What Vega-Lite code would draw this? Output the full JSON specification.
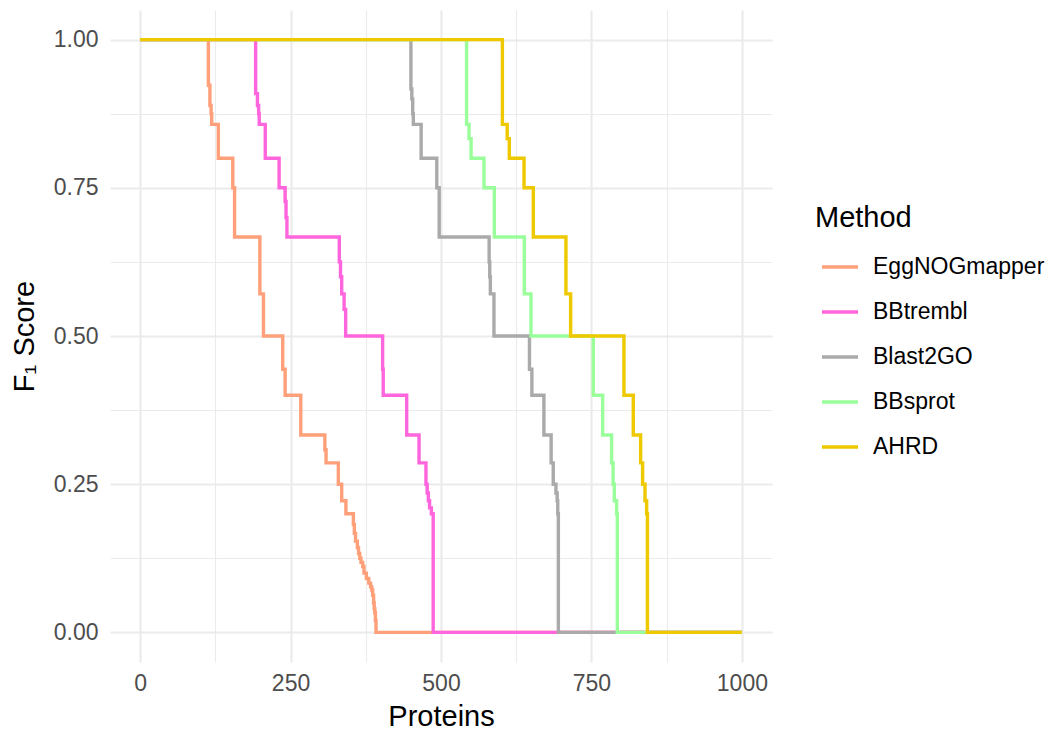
{
  "$schema": "https://vega.github.io/schema/vega-lite/v6.json",
  "width": 662,
  "height": 652,
  "autosize": {"type": "none"},
  "padding": {"left": 110, "top": 10, "right": 282, "bottom": 69},
  "background": "white",
  "config": {
    "view": {"stroke": null},
    "font": "Liberation Sans"
  },
  "datasets": {
    "curves": [
      {"method": "EggNOGmapper", "x": 0, "f1": 1},
      {"method": "EggNOGmapper", "x": 113.5, "f1": 0.923},
      {"method": "EggNOGmapper", "x": 116, "f1": 0.889},
      {"method": "EggNOGmapper", "x": 118, "f1": 0.875},
      {"method": "EggNOGmapper", "x": 119, "f1": 0.857},
      {"method": "EggNOGmapper", "x": 130, "f1": 0.8},
      {"method": "EggNOGmapper", "x": 154, "f1": 0.75},
      {"method": "EggNOGmapper", "x": 157, "f1": 0.667},
      {"method": "EggNOGmapper", "x": 199, "f1": 0.571},
      {"method": "EggNOGmapper", "x": 205, "f1": 0.5},
      {"method": "EggNOGmapper", "x": 237, "f1": 0.444},
      {"method": "EggNOGmapper", "x": 241, "f1": 0.4},
      {"method": "EggNOGmapper", "x": 267, "f1": 0.333},
      {"method": "EggNOGmapper", "x": 307, "f1": 0.308},
      {"method": "EggNOGmapper", "x": 309, "f1": 0.286},
      {"method": "EggNOGmapper", "x": 329.4, "f1": 0.25},
      {"method": "EggNOGmapper", "x": 335, "f1": 0.222},
      {"method": "EggNOGmapper", "x": 342, "f1": 0.2},
      {"method": "EggNOGmapper", "x": 354.4, "f1": 0.182},
      {"method": "EggNOGmapper", "x": 356, "f1": 0.167},
      {"method": "EggNOGmapper", "x": 358, "f1": 0.154},
      {"method": "EggNOGmapper", "x": 361, "f1": 0.143},
      {"method": "EggNOGmapper", "x": 363, "f1": 0.133},
      {"method": "EggNOGmapper", "x": 365, "f1": 0.125},
      {"method": "EggNOGmapper", "x": 367, "f1": 0.118},
      {"method": "EggNOGmapper", "x": 370, "f1": 0.111},
      {"method": "EggNOGmapper", "x": 372, "f1": 0.1},
      {"method": "EggNOGmapper", "x": 376, "f1": 0.091},
      {"method": "EggNOGmapper", "x": 380, "f1": 0.083},
      {"method": "EggNOGmapper", "x": 383, "f1": 0.077},
      {"method": "EggNOGmapper", "x": 385, "f1": 0.0714},
      {"method": "EggNOGmapper", "x": 386.5, "f1": 0.0625},
      {"method": "EggNOGmapper", "x": 388, "f1": 0.05},
      {"method": "EggNOGmapper", "x": 389, "f1": 0.04},
      {"method": "EggNOGmapper", "x": 390, "f1": 0.033},
      {"method": "EggNOGmapper", "x": 391, "f1": 0.02},
      {"method": "EggNOGmapper", "x": 392, "f1": 0},
      {"method": "EggNOGmapper", "x": 1000, "f1": 0},

      {"method": "BBtrembl", "x": 0, "f1": 1},
      {"method": "BBtrembl", "x": 192, "f1": 0.909},
      {"method": "BBtrembl", "x": 195, "f1": 0.889},
      {"method": "BBtrembl", "x": 197, "f1": 0.875},
      {"method": "BBtrembl", "x": 198, "f1": 0.857},
      {"method": "BBtrembl", "x": 208, "f1": 0.8},
      {"method": "BBtrembl", "x": 231, "f1": 0.75},
      {"method": "BBtrembl", "x": 241, "f1": 0.727},
      {"method": "BBtrembl", "x": 242.5, "f1": 0.7},
      {"method": "BBtrembl", "x": 244, "f1": 0.667},
      {"method": "BBtrembl", "x": 331, "f1": 0.625},
      {"method": "BBtrembl", "x": 333, "f1": 0.6},
      {"method": "BBtrembl", "x": 335, "f1": 0.571},
      {"method": "BBtrembl", "x": 339, "f1": 0.545},
      {"method": "BBtrembl", "x": 341.6, "f1": 0.5},
      {"method": "BBtrembl", "x": 403, "f1": 0.444},
      {"method": "BBtrembl", "x": 404, "f1": 0.4},
      {"method": "BBtrembl", "x": 443, "f1": 0.333},
      {"method": "BBtrembl", "x": 463.5, "f1": 0.286},
      {"method": "BBtrembl", "x": 475, "f1": 0.25},
      {"method": "BBtrembl", "x": 477, "f1": 0.235},
      {"method": "BBtrembl", "x": 479, "f1": 0.222},
      {"method": "BBtrembl", "x": 481, "f1": 0.21},
      {"method": "BBtrembl", "x": 484, "f1": 0.2},
      {"method": "BBtrembl", "x": 487, "f1": 0},
      {"method": "BBtrembl", "x": 1000, "f1": 0},

      {"method": "Blast2GO", "x": 0, "f1": 1},
      {"method": "Blast2GO", "x": 450, "f1": 0.917},
      {"method": "Blast2GO", "x": 451.5, "f1": 0.9},
      {"method": "Blast2GO", "x": 453, "f1": 0.875},
      {"method": "Blast2GO", "x": 454, "f1": 0.857},
      {"method": "Blast2GO", "x": 467, "f1": 0.8},
      {"method": "Blast2GO", "x": 493, "f1": 0.75},
      {"method": "Blast2GO", "x": 497, "f1": 0.667},
      {"method": "Blast2GO", "x": 580, "f1": 0.625},
      {"method": "Blast2GO", "x": 581, "f1": 0.6},
      {"method": "Blast2GO", "x": 582, "f1": 0.571},
      {"method": "Blast2GO", "x": 588, "f1": 0.5},
      {"method": "Blast2GO", "x": 647, "f1": 0.444},
      {"method": "Blast2GO", "x": 651, "f1": 0.4},
      {"method": "Blast2GO", "x": 671, "f1": 0.333},
      {"method": "Blast2GO", "x": 683, "f1": 0.286},
      {"method": "Blast2GO", "x": 686.5, "f1": 0.25},
      {"method": "Blast2GO", "x": 691, "f1": 0.235},
      {"method": "Blast2GO", "x": 693, "f1": 0.222},
      {"method": "Blast2GO", "x": 694, "f1": 0.2},
      {"method": "Blast2GO", "x": 695, "f1": 0},
      {"method": "Blast2GO", "x": 1000, "f1": 0},

      {"method": "BBsprot", "x": 0, "f1": 1},
      {"method": "BBsprot", "x": 542.5, "f1": 0.857},
      {"method": "BBsprot", "x": 546.5, "f1": 0.833},
      {"method": "BBsprot", "x": 550, "f1": 0.8},
      {"method": "BBsprot", "x": 571.4, "f1": 0.75},
      {"method": "BBsprot", "x": 588.6, "f1": 0.667},
      {"method": "BBsprot", "x": 638.4, "f1": 0.571},
      {"method": "BBsprot", "x": 649.5, "f1": 0.5},
      {"method": "BBsprot", "x": 753, "f1": 0.4},
      {"method": "BBsprot", "x": 768.6, "f1": 0.333},
      {"method": "BBsprot", "x": 783.5, "f1": 0.286},
      {"method": "BBsprot", "x": 786, "f1": 0.25},
      {"method": "BBsprot", "x": 788, "f1": 0.222},
      {"method": "BBsprot", "x": 791.8, "f1": 0.2},
      {"method": "BBsprot", "x": 793, "f1": 0},
      {"method": "BBsprot", "x": 1000, "f1": 0},

      {"method": "AHRD", "x": 0, "f1": 1},
      {"method": "AHRD", "x": 602, "f1": 0.857},
      {"method": "AHRD", "x": 610, "f1": 0.833},
      {"method": "AHRD", "x": 613.5, "f1": 0.8},
      {"method": "AHRD", "x": 638, "f1": 0.75},
      {"method": "AHRD", "x": 653.4, "f1": 0.667},
      {"method": "AHRD", "x": 707.6, "f1": 0.571},
      {"method": "AHRD", "x": 715.4, "f1": 0.5},
      {"method": "AHRD", "x": 804, "f1": 0.4},
      {"method": "AHRD", "x": 819.5, "f1": 0.333},
      {"method": "AHRD", "x": 831.7, "f1": 0.286},
      {"method": "AHRD", "x": 835, "f1": 0.25},
      {"method": "AHRD", "x": 839, "f1": 0.222},
      {"method": "AHRD", "x": 841.7, "f1": 0.2},
      {"method": "AHRD", "x": 843, "f1": 0},
      {"method": "AHRD", "x": 1000, "f1": 0}
    ]
  },
  "data": {"name": "curves"},
  "mark": {"type": "line", "interpolate": "step-after", "strokeWidth": 3.4, "clip": true},
  "encoding": {
    "x": {
      "field": "x",
      "type": "quantitative",
      "scale": {"domain": [-50, 1050], "nice": false, "zero": false},
      "axis": {
        "title": "Proteins",
        "values": [0, 125, 250, 375, 500, 625, 750, 875, 1000],
        "labelExpr": "datum.value % 250 === 0 ? format(datum.value, 'd') : ''",
        "domain": false,
        "ticks": false,
        "grid": true,
        "gridColor": "#EBEBEB",
        "gridWidth": {"condition": {"test": "datum.value % 250 === 0", "value": 2.2}, "value": 1.1},
        "labelFont": "Liberation Sans",
        "labelFontSize": 23,
        "labelColor": "#4D4D4D",
        "labelPadding": 10,
        "labelFlush": false,
        "labelOverlap": false,
        "titleFont": "Liberation Sans",
        "titleFontSize": 29,
        "titleFontWeight": "normal",
        "titleColor": "#000000",
        "titlePadding": 7
      }
    },
    "y": {
      "field": "f1",
      "type": "quantitative",
      "scale": {"domain": [-0.05, 1.05], "nice": false, "zero": false},
      "axis": {
        "title": "F₁ Score",
        "values": [0, 0.125, 0.25, 0.375, 0.5, 0.625, 0.75, 0.875, 1],
        "labelExpr": "(datum.value * 4) % 1 === 0 ? format(datum.value, '.2f') : ''",
        "domain": false,
        "ticks": false,
        "grid": true,
        "gridColor": "#EBEBEB",
        "gridWidth": {"condition": {"test": "(datum.value * 4) % 1 === 0", "value": 2.2}, "value": 1.1},
        "labelFont": "Liberation Sans",
        "labelFontSize": 23,
        "labelColor": "#4D4D4D",
        "labelPadding": 12,
        "labelFlush": false,
        "labelOverlap": false,
        "titleFont": "Liberation Sans",
        "titleFontSize": 29,
        "titleFontWeight": "normal",
        "titleColor": "#000000",
        "titlePadding": 14
      }
    },
    "color": {
      "field": "method",
      "type": "nominal",
      "scale": {
        "domain": ["EggNOGmapper", "BBtrembl", "Blast2GO", "BBsprot", "AHRD"],
        "range": ["#FFA07A", "#FF66DD", "#AAAAAA", "#9AFF9A", "#EEC900"]
      },
      "legend": {
        "title": "Method",
        "orient": "none",
        "legendX": 705,
        "legendY": 194,
        "titleFont": "Liberation Sans",
        "titleFontSize": 29,
        "titleFontWeight": "normal",
        "titleColor": "#000000",
        "titlePadding": 14,
        "labelFont": "Liberation Sans",
        "labelFontSize": 23,
        "labelColor": "#000000",
        "labelLimit": 0,
        "symbolType": "stroke",
        "symbolSize": 1296,
        "symbolStrokeWidth": 3.4,
        "symbolOffset": 5,
        "labelOffset": 13,
        "rowPadding": 13
      }
    }
  }
}
